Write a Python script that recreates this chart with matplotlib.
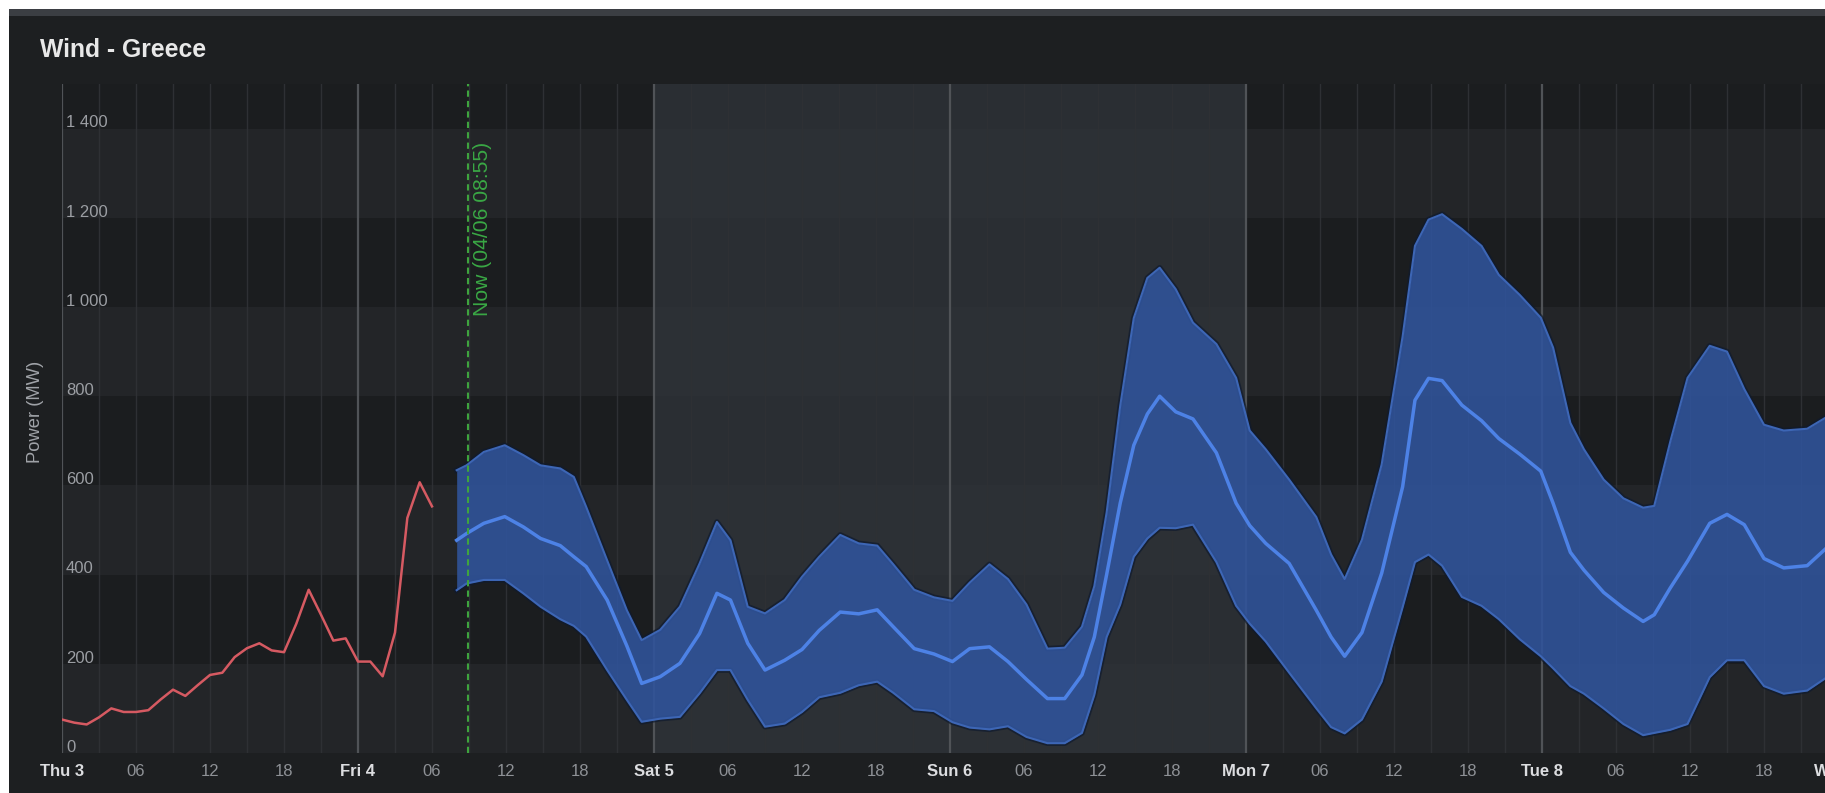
import matplotlib
matplotlib.use("Agg")
import matplotlib.pyplot as plt
from matplotlib.patches import Rectangle

plt.rcParams['font.family'] = ['Liberation Sans', 'DejaVu Sans']

# ---------------- data ----------------
title = "Wind - Greece"
y_label = "Power (MW)"
now_label = "Now (04/06 08:55)"
now_hour = 32.92

day_labels = ["Thu 3", "Fri 4", "Sat 5", "Sun 6", "Mon 7", "Tue 8", "Wed 9"]
hour_labels = ["06", "12", "18"]
y_ticks = [0, 200, 400, 600, 800, 1000, 1200, 1400]
y_tick_labels = ["0", "200", "400", "600", "800", "1 000", "1 200", "1 400"]
weekend = (48, 96)

actual_hours = list(range(0, 31))
actual_mw = [75, 68, 64, 80, 100, 92, 92, 96, 120, 142, 128, 152, 175, 180, 215,
             235, 246, 230, 226, 290, 366, 310, 252, 257, 205, 205, 172, 270,
             527, 607, 553]

fc_hours = [32.0, 32.8, 34.2, 35.9, 37.4, 38.8, 40.4, 41.5, 42.5, 44.2, 45.8, 47.0,
            48.5, 50.1, 51.7, 53.1, 54.2, 55.6, 57.0, 58.6, 60.0, 61.4, 63.1, 64.6,
            66.1, 67.4, 69.1, 70.7, 72.2, 73.6, 75.2, 76.7, 78.2, 79.9, 81.3, 82.7,
            83.7, 84.7, 85.8, 86.9, 88.0, 89.0, 90.3, 91.7, 93.6, 95.2, 96.3, 97.6,
            99.5, 101.7, 102.9, 104.0, 105.4, 107.0, 108.7, 109.7, 110.8, 111.9,
            113.5, 115.1, 116.5, 118.2, 119.9, 120.9, 122.3, 123.4, 125.0, 126.6,
            128.2, 129.1, 130.4, 131.8, 133.6, 135.0, 136.4, 138.0, 139.6, 141.5,
            143.0]
fc_upper = [634, 645, 675, 690, 668, 645, 638, 619, 552, 432, 320, 253,
            276, 328, 425, 518, 477, 328, 313, 343, 395, 440, 489, 470,
            465, 423, 366, 349, 341, 382, 423, 390, 333, 234, 236, 283,
            374, 539, 778, 975, 1065, 1088, 1040, 965, 917, 841, 723, 681,
            613, 529, 445, 390, 478, 647, 934, 1137, 1196, 1208,
            1175, 1137, 1072, 1027, 976, 909, 740, 681, 613, 571,
            550, 554, 698, 841, 913, 900, 816, 736, 723, 727,
            752]
fc_median = [477, 492, 515, 530, 507, 481, 465, 440, 418, 343, 240, 156,
             171, 201, 268, 358, 343, 246, 186, 208, 232, 275, 316, 312,
             321, 283, 234, 222, 205, 234, 238, 205, 165, 122, 122, 175,
             260, 400, 560, 690, 760, 800, 765, 749, 673, 560, 510, 470,
             425, 320, 260, 217, 270, 403, 597, 791, 840, 835,
             780, 745, 705, 670, 632, 560, 450, 410, 360, 325,
             295, 310, 370, 430, 515, 535, 512, 436, 415, 420,
             458]
fc_lower = [365, 380, 388, 388, 358, 328, 300, 285, 261, 186, 119, 70,
            77, 81, 134, 186, 186, 119, 59, 66, 92, 125, 135, 152,
            160, 135, 98, 94, 69, 57, 53, 60, 36, 22, 22, 45,
            130, 260, 333, 440, 481, 505, 504, 512, 428, 330, 290, 250,
            180, 100, 58, 44, 75, 160, 327, 428, 445, 420,
            350, 330, 300, 255, 217, 190, 150, 133, 100, 65,
            40, 45, 52, 65, 170, 208, 208, 150, 133, 140,
            168]

# ---------------- figure ----------------
W, H = 1825, 793
fig = plt.figure(figsize=(W / 100, H / 100), dpi=100)
fig.patch.set_facecolor("white")

def fx(px):
    return px / W

def fy(px_from_top):
    return 1 - px_from_top / H

# dark panel + grey header strip
fig.add_artist(Rectangle((fx(9), 0), 1 - fx(9), fy(9), transform=fig.transFigure,
                         facecolor="#1d1f21", edgecolor="none", zorder=0))
fig.add_artist(Rectangle((fx(9), fy(16)), 1 - fx(9), fy(9) - fy(16),
                         transform=fig.transFigure, facecolor="#3b3e43",
                         edgecolor="none", zorder=0))

px_per_hour = 296 / 24.0
x_max = 150
ax_left, ax_top, ax_bottom = 62, 84, 753
ax = fig.add_axes([fx(ax_left), fy(ax_bottom), fx(x_max * px_per_hour),
                   (ax_bottom - ax_top) / H])
ax.set_facecolor("#1b1d1f")
ax.set_xlim(0, x_max)
ax.set_ylim(0, 1500)
for s in ax.spines.values():
    s.set_visible(False)

# alternating horizontal bands
for lo in range(0, 1500, 400):
    ax.axhspan(lo, lo + 200, color="#232528", zorder=0, lw=0)

# weekend shading
ax.axvspan(weekend[0], weekend[1], color="#30343a", alpha=0.75, zorder=0.5, lw=0)

# vertical grid lines
for h in range(0, x_max + 1, 3):
    if h % 24 == 0:
        ax.axvline(h, color="#505357", lw=1.6, zorder=1.5)
    else:
        ax.axvline(h, color="#2e3034", lw=1.0, zorder=1)

# forecast band
ax.plot(fc_hours, fc_upper, color="#0f1a2e", lw=4, alpha=0.7, zorder=2.5)
ax.plot(fc_hours, fc_lower, color="#0f1a2e", lw=4, alpha=0.7, zorder=2.5)
ax.fill_between(fc_hours, fc_lower, fc_upper, color="#30549c", alpha=0.88,
                lw=0, zorder=3)
ax.plot(fc_hours, fc_upper, color="#3d66b5", lw=1.5, zorder=3.2)
ax.plot(fc_hours, fc_lower, color="#3d66b5", lw=1.5, zorder=3.2)
ax.plot(fc_hours, fc_median, color="#4d82e6", lw=2.5, zorder=4)

# actual production
ax.plot(actual_hours, actual_mw, color="#d65a62", lw=1.8, zorder=4)

# now line
ax.axvline(now_hour, color="#3ea43e", lw=1.5, ls=(0, (3, 2)), zorder=5)
ax.text(now_hour + 1.2, 1370, now_label, rotation=90, color="#3aa845",
        fontsize=15.2, ha="center", va="top", zorder=5)

# y tick labels inside the plot
for v, lab in zip(y_ticks, y_tick_labels):
    ax.text(0.33, v - 4, lab, color="#9b9ea3", fontsize=12, ha="left",
            va="bottom", zorder=6)
ax.set_yticks([])

# x ticks
ticks = list(range(0, 145, 6))
labels = []
for h in ticks:
    if h % 24 == 0:
        labels.append(day_labels[h // 24])
    else:
        labels.append(hour_labels[(h % 24) // 6 - 1])
ax.set_xticks(ticks)
ax.set_xticklabels(labels)
ax.tick_params(axis="x", length=0, pad=8, labelsize=12)
for h, t in zip(ticks, ax.get_xticklabels()):
    if h % 24 == 0:
        t.set_color("#dcdde0")
        t.set_fontweight("bold")
    else:
        t.set_color("#8e9196")

# titles
fig.text(fx(40), fy(50), title, color="#e8e8e8", fontsize=17.8,
         fontweight="bold", ha="left", va="center")
fig.text(fx(36), fy(412), y_label, color="#a0a3a8", fontsize=13.2,
         rotation=90, ha="center", va="center")

fig.savefig("out.png", dpi=100, facecolor=fig.get_facecolor())
